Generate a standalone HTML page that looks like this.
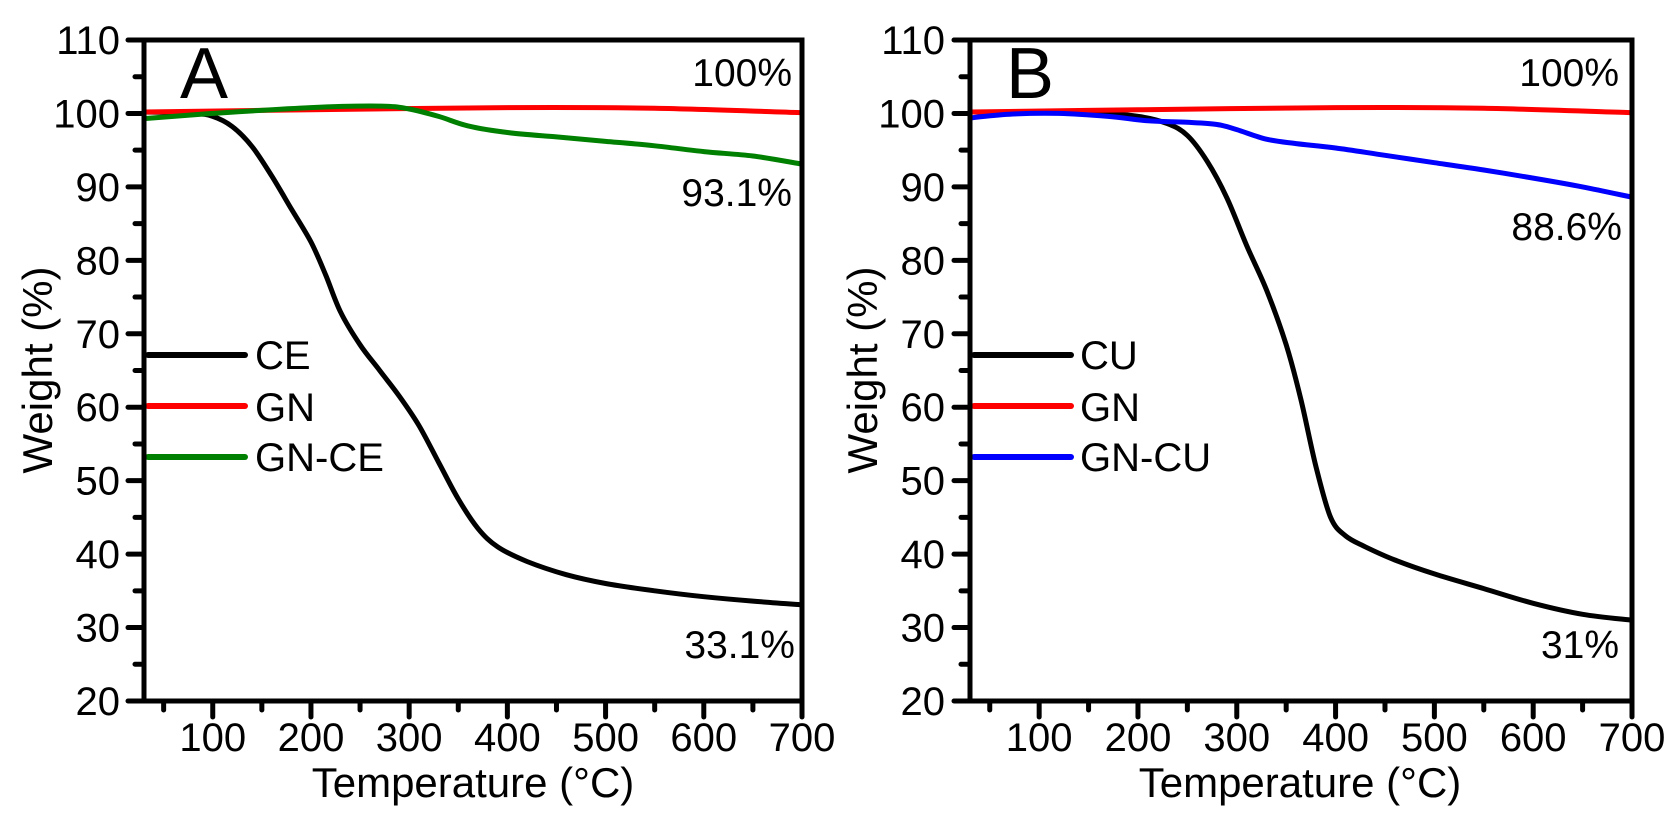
<!DOCTYPE html>
<html><head><meta charset="utf-8"><style>
html,body{margin:0;padding:0;background:#fff}
svg text{font-family:"Liberation Sans",Arial,sans-serif;fill:#000}
</style></head><body>
<svg id="s" width="1673" height="813" viewBox="0 0 1673 813" xmlns="http://www.w3.org/2000/svg">
<rect width="1673" height="813" fill="#fff"/>
<g id="A"></g><g id="B"></g>
<text x="180" y="98" font-size="72">A</text>
<text x="792" y="86" font-size="39" text-anchor="end">100%</text>
<text x="792" y="206" font-size="39" text-anchor="end">93.1%</text>
<text x="795" y="658" font-size="39" text-anchor="end">33.1%</text>
<text x="473" y="797" font-size="42" text-anchor="middle">Temperature (°C)</text>
<text transform="translate(52,370) rotate(-90)" font-size="42" text-anchor="middle">Weight (%)</text>
<text x="255" y="369" font-size="40">CE</text>
<text x="255" y="421" font-size="40">GN</text>
<text x="255" y="471" font-size="40">GN-CE</text>
<text x="1006" y="98" font-size="72">B</text>
<text x="1619" y="86" font-size="39" text-anchor="end">100%</text>
<text x="1622" y="240" font-size="39" text-anchor="end">88.6%</text>
<text x="1619" y="658" font-size="39" text-anchor="end">31%</text>
<text x="1300" y="797" font-size="42" text-anchor="middle">Temperature (°C)</text>
<text transform="translate(877,370) rotate(-90)" font-size="42" text-anchor="middle">Weight (%)</text>
<text x="1080" y="369" font-size="40">CU</text>
<text x="1080" y="421" font-size="40">GN</text>
<text x="1080" y="471" font-size="40">GN-CU</text>
</svg>
<script>
var NS="http://www.w3.org/2000/svg";
function el(p,t,a){var e=document.createElementNS(NS,t);for(var k in a)e.setAttribute(k,a[k]);p.appendChild(e);return e;}
function spline(pts){var d="M"+pts[0][0].toFixed(1)+","+pts[0][1].toFixed(1);
 for(var i=0;i<pts.length-1;i++){var p0=pts[Math.max(i-1,0)],p1=pts[i],p2=pts[i+1],p3=pts[Math.min(i+2,pts.length-1)];
  var c1=[p1[0]+(p2[0]-p0[0])/6,p1[1]+(p2[1]-p0[1])/6],c2=[p2[0]-(p3[0]-p1[0])/6,p2[1]-(p3[1]-p1[1])/6];
  d+=" C"+c1[0].toFixed(1)+","+c1[1].toFixed(1)+" "+c2[0].toFixed(1)+","+c2[1].toFixed(1)+" "+p2[0].toFixed(1)+","+p2[1].toFixed(1);}
 return d;}
function panel(g,L,R,labx,series,leg){
 var T=40,Bm=701,sx=(R-L)/670;
 var X=function(t){return L+(t-30)*sx},Y=function(w){return T+(110-w)*(Bm-T)/90};
 series.forEach(function(s){el(g,"path",{d:spline(s.d.map(function(p){return [X(p[0]),Y(p[1])]})),fill:"none",stroke:s.c,"stroke-width":5,"stroke-linejoin":"round","stroke-linecap":"butt"});});
 leg.forEach(function(l,i){el(g,"line",{x1:L+4,x2:L+101,y1:355+i*51,y2:355+i*51,stroke:l,"stroke-width":6,"stroke-linecap":"round"});});
 el(g,"rect",{x:L,y:T,width:R-L,height:Bm-T,fill:"none",stroke:"#000","stroke-width":5});
 for(var w=20;w<=110;w+=5){var y=Y(w),maj=(w%10==0);
  el(g,"line",{x1:L-(maj?16:9),x2:L,y1:y,y2:y,stroke:"#000","stroke-width":5,"stroke-linecap":"round"});
  if(maj){var t=el(g,"text",{x:labx,y:y+14,"font-size":40,"text-anchor":"end"});t.textContent=w;}}
 for(var t2=50;t2<=700;t2+=50){var x=X(t2),maj=(t2%100==0);
  el(g,"line",{x1:x,x2:x,y1:Bm,y2:Bm+(maj?16:9),stroke:"#000","stroke-width":5,"stroke-linecap":"round"});
  if(maj){var tt=el(g,"text",{x:x,y:751,"font-size":40,"text-anchor":"middle"});tt.textContent=t2;}}
}
var GN=[[30,100.2],[200,100.5],[400,100.8],[550,100.7],[700,100.1]];
panel(document.getElementById("A"),144,802,120,[
 {c:"#000",d:[[30,100.2],[80,100],[100,99.6],[120,98.2],[140,95.5],[160,91.5],[180,87],[200,82.5],[215,78],[230,73],[250,68.5],[270,65],[290,61.5],[310,57.5],[330,52.5],[350,47.5],[370,43.5],[390,41],[420,39],[460,37.2],[500,36],[550,35],[600,34.2],[650,33.6],[700,33.1]]},
 {c:"#ff0000",d:GN},
 {c:"#008000",d:[[30,99.3],[100,100],[200,100.8],[270,101],[300,100.6],[330,99.6],[360,98.3],[400,97.4],[450,96.8],[500,96.2],[550,95.6],[600,94.8],[650,94.2],[700,93.1]]}
],["#000","#ff0000","#008000"]);
panel(document.getElementById("B"),970,1632,945,[
 {c:"#000",d:[[30,100.2],[150,100.1],[200,99.6],[230,98.6],[250,97],[270,93.5],[290,88.5],[310,82],[330,76],[350,68.5],[365,61],[380,52],[395,45],[410,42.5],[430,41],[460,39.2],[500,37.3],[550,35.3],[600,33.3],[650,31.8],[700,31]]},
 {c:"#ff0000",d:GN},
 {c:"#0000ff",d:[[30,99.4],[70,99.9],[120,100],[170,99.6],[210,99],[250,98.8],[280,98.5],[300,97.8],[330,96.5],[360,95.9],[400,95.3],[450,94.3],[500,93.3],[550,92.3],[600,91.2],[650,90],[700,88.6]]}
],["#000","#ff0000","#0000ff"]);
</script>
</body></html>
